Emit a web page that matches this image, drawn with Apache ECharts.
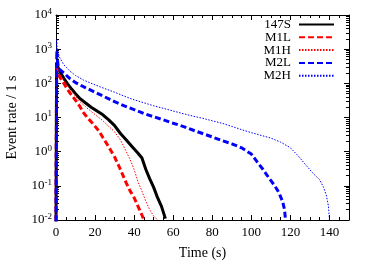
<!DOCTYPE html>
<html><head><meta charset="utf-8">
<script src="https://cdn.jsdelivr.net/npm/echarts@6/dist/echarts.min.js"></script>
<style>html,body{margin:0;padding:0;background:#fff}#c{width:374px;height:262px}</style>
</head><body><div id="c"></div>
<script>
const seriesNames = ['147S','M1L','M1H','M2L','M2H'];
const xTicks = [0,20,40,60,80,100,120,140];
const yTickExps = [-2,-1,0,1,2,3,4];

const t147S = [0,0.3,1,2,4,6,8,10,12,15,18,21,24,27,30,33,36,39,42,44,46,48,50,52,54,56];
const v147S = [0.005,400,300,220,140,95,68,50,37,27,20,15.5,12,8.5,5.8,3.4,2.2,1.4,0.9,0.65,0.3,0.16,0.09,0.045,0.025,0.011];

const tM1L = [0,0.3,1,2,4,6,8,10,12,14,16,18,20,22,24,26,28,30,32,34,36,38,40,42,44,45];
const vM1L = [0.005,300,200,150,100,65,45,32,22,14,10,7.5,5.5,4,2.6,1.7,1.1,0.7,0.4,0.22,0.12,0.07,0.045,0.025,0.014,0.01];

const tM1H = [0,0.3,1,2,4,6,8,10,12,15,18,21,24,27,30,33,36,38,40,42,44,46,48,50,52];
const vM1H = [0.005,350,250,180,120,85,60,42,30,21,15,11,8,5.5,3.8,2.2,1.0,0.58,0.3,0.13,0.07,0.035,0.02,0.013,0.01];

const tM2L = [0,0.4,1,2,4,7,10,15,20,25,30,35,40,45,50,55,60,65,70,75,80,85,90,95,100,103,106,109,112,114,116,117,117.5];
const vM2L = [0.005,900,350,250,200,140,105,75,55,40,29,22,17,13,10.5,8.5,6.8,5.5,4.3,3.4,2.7,2.1,1.7,1.3,0.85,0.5,0.3,0.17,0.1,0.065,0.035,0.02,0.01];

const tM2H = [0,0.3,0.6,1,2,4,7,10,14,20,25,30,35,40,45,50,55,60,65,70,75,80,85,90,95,100,105,110,115,120,124,128,132,135,137,138.5,139.5,140];
const vM2H = [0.005,2000,1200,800,550,350,230,170,125,90,70,55,42,33,27,22,18.5,15.5,13,11,9.5,8,6.8,5.5,4.4,3.6,3.0,2.5,1.9,1.3,0.75,0.4,0.22,0.15,0.09,0.05,0.025,0.01];

const times = [t147S,tM1L,tM1H,tM2L,tM2H];
const vals = [v147S,vM1L,vM1H,vM2L,vM2H];
const styles = [
  {color:'#000000', width:3, type:'solid'},
  {color:'#ff0000', width:3, type:[6,3]},
  {color:'#ff0000', width:1, type:[1.5,1.5]},
  {color:'#0000ff', width:3, type:[6,3]},
  {color:'#0000ff', width:1, type:[1.5,1.5]}
];
const font = '"Liberation Serif", "DejaVu Serif", serif';

const series = seriesNames.map((n,i)=>({
  name:n, type:'line', xAxisIndex:0, yAxisIndex:0, symbol:'none', showSymbol:false, clip:true, animation:false,
  lineStyle:{color:styles[i].color, width:styles[i].width, type:styles[i].type},
  itemStyle:{color:styles[i].color},
  data: times[i].map((t,j)=>[t, vals[i][j]])
}));

const legends = seriesNames.map((n,i)=>({
  data:[n], right:39, top:18+i*12.8, orient:'vertical', align:'right',
  itemWidth:35, itemHeight:8, itemGap:0, padding:0,
  itemStyle:{opacity:0},
  textStyle:{fontFamily:font, fontSize:13, color:'#000', padding:[0,3,0,0]}
}));

const axisCommon = {
  axisLine:{show:true, onZero:false, lineStyle:{color:'#000', width:1}},
  axisTick:{show:true, inside:true, length:5, lineStyle:{color:'#000'}},
  splitLine:{show:false}
};

const option = {
  animation:false,
  backgroundColor:'#fff',
  grid:{left:56, right:25, top:15, bottom:42, containLabel:false, outerBoundsMode:'none'},
  legend: legends,
  xAxis:[
    {type:'value', min:0, max:150, interval:20, position:'bottom',
      name:'Time (s)', nameLocation:'middle', nameGap:26,
      nameTextStyle:{fontFamily:font, fontSize:14, color:'#000'},
      axisLine:axisCommon.axisLine, axisTick:axisCommon.axisTick, splitLine:{show:false},
      axisLabel:{fontFamily:font, fontSize:13, color:'#000', margin:6,
        formatter:v=> xTicks.includes(v)? String(v):''},
      minorTick:{show:true, splitNumber:4, length:3, lineStyle:{color:'#000'}}
    },
    {type:'value', min:0, max:150, interval:20, position:'top',
      axisLine:axisCommon.axisLine, axisTick:axisCommon.axisTick, splitLine:{show:false},
      minorTick:{show:true, splitNumber:4, length:3, lineStyle:{color:'#000'}},
      axisLabel:{show:false}}
  ],
  yAxis:[
    {type:'log', logBase:10, min:0.01, max:10000, position:'left',
      name:'Event rate / 1 s', nameLocation:'middle', nameGap:37, nameRotate:90,
      nameTextStyle:{fontFamily:font, fontSize:14, color:'#000'},
      axisLine:axisCommon.axisLine, axisTick:axisCommon.axisTick, splitLine:{show:false},
      minorTick:{show:true, splitNumber:9, length:3, lineStyle:{color:'#000'}},
      axisLabel:{margin:4, formatter:v=>{const e=Math.round(Math.log10(v)); return yTickExps.includes(e)?'{b|10}{s|'+e+'}':'';},
        rich:{b:{fontFamily:font, fontSize:13, color:'#000'}, s:{fontFamily:font, fontSize:9, color:'#000', verticalAlign:'bottom', padding:[0,0,7,0]}}}
    },
    {type:'log', logBase:10, min:0.01, max:10000, position:'right',
      axisLine:axisCommon.axisLine, axisTick:axisCommon.axisTick, splitLine:{show:false},
      minorTick:{show:true, splitNumber:9, length:3, lineStyle:{color:'#000'}},
      axisLabel:{show:false}}
  ],
  series: series
};
const chart = echarts.init(document.getElementById('c'), null, {renderer:'canvas'});
chart.setOption(option);
</script></body></html>
